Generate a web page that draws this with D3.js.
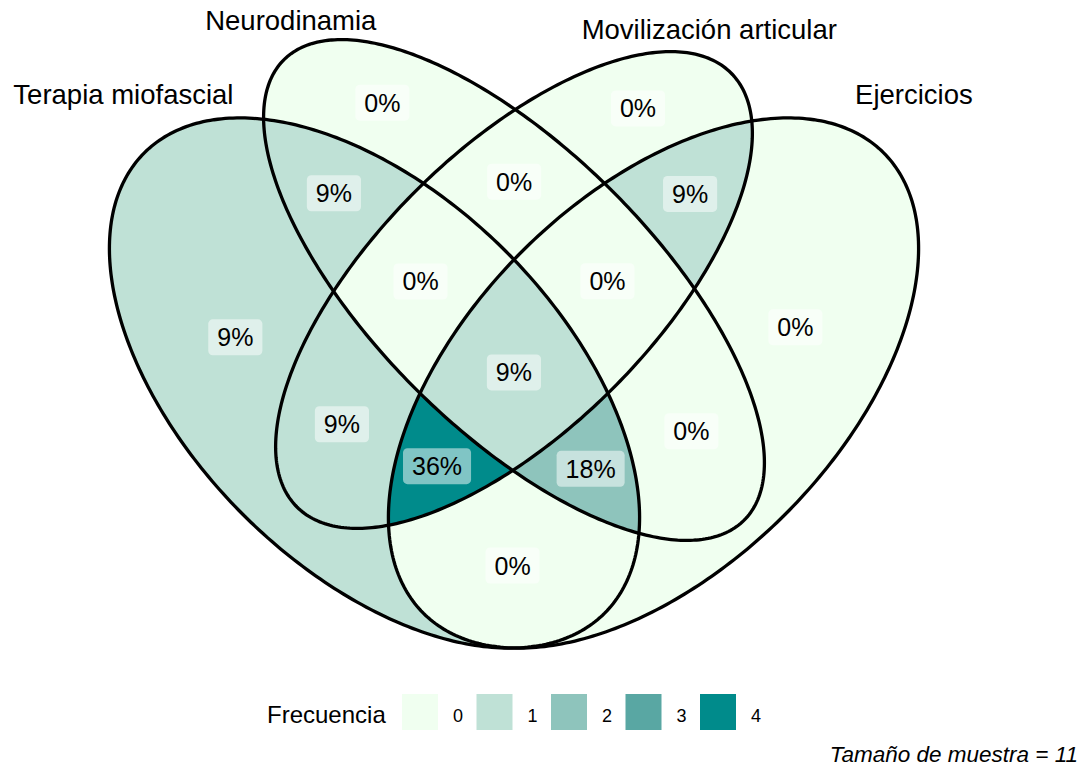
<!DOCTYPE html>
<html><head><meta charset="utf-8">
<script src="https://cdn.jsdelivr.net/npm/d3@7/dist/d3.min.js"></script>
<style>
body{margin:0;background:#fff;}
text{font-family:"Liberation Sans", Arial, Helvetica, sans-serif;fill:#000;}
</style>
</head><body>
<svg id="chart" width="1091" height="769" xmlns="http://www.w3.org/2000/svg"></svg>
<script>
// ---- data ----
const setNames = ["Terapia miofascial", "Neurodinamia", "Movilización articular", "Ejercicios"];
const setKeys = ["A", "B", "C", "D"];
// 4-set ellipse shape (data units)
const shapeCx = [0.35, 0.50, 0.50, 0.65];
const shapeCy = [0.47, 0.57, 0.57, 0.47];
const shapeA  = [0.35, 0.35, 0.33, 0.35];
const shapeB  = [0.20, 0.15, 0.15, 0.20];
const shapeRot = [135, 135, 45, 45];
const setLabelX = [0.08, 0.26, 0.71, 0.93];
const setLabelY = [0.78, 0.86, 0.85, 0.78];
// regions (set membership) and counts
const regionIds    = ["A", "B", "C", "D", "AB", "AC", "AD", "BC", "BD", "CD", "ABC", "ABD", "ACD", "BCD", "ABCD"];
const regionCounts = [ 1,   0,   0,   0,   1,    1,    0,    0,    0,    1,    0,     2,     4,     0,     1];
const legendValues = [0, 1, 2, 3, 4];
const sampleSize = 11;
const legendTitle = "Frecuencia";
const caption = "Tamaño de muestra = " + sampleSize;

// ---- scales ----
const W = 1091, H = 769;
const x = d3.scaleLinear().domain([0, 1]).range([49, 979]);
const y = d3.scaleLinear().domain([0, 1]).range([820.1, -109.9]);
const color = d3.scaleLinear().domain([0, 4]).range(["#F0FFF0", "#008B8B"]).interpolate(d3.interpolateLab);

const svg = d3.select("#chart");
const defs = svg.append("defs");

function ellipsePoints(i) {
  const th = shapeRot[i] * Math.PI / 180;
  const pts = [];
  for (let k = 0; k <= 360; k++) {
    const t = k * Math.PI / 180;
    const ex = shapeA[i] * Math.cos(t), ey = shapeB[i] * Math.sin(t);
    pts.push([shapeCx[i] + ex * Math.cos(th) - ey * Math.sin(th),
              shapeCy[i] + ex * Math.sin(th) + ey * Math.cos(th)]);
  }
  return pts;
}
const line = d3.line().x(d => x(d[0])).y(d => y(d[1]));
const ellipsePaths = setKeys.map((k, i) => line(ellipsePoints(i)) + "Z");

function inSet(i, px, py) {
  const th = shapeRot[i] * Math.PI / 180;
  const dx = px - shapeCx[i], dy = py - shapeCy[i];
  const u = dx * Math.cos(th) + dy * Math.sin(th);
  const v = -dx * Math.sin(th) + dy * Math.cos(th);
  return (u / shapeA[i]) ** 2 + (v / shapeB[i]) ** 2 <= 1;
}

// clip paths for each set
setKeys.forEach((k, i) => {
  defs.append("clipPath").attr("id", "clip-" + k)
    .append("path").attr("d", ellipsePaths[i]);
});

// regions
const gRegions = svg.append("g");
regionIds.forEach((rid, r) => {
  const ins = setKeys.map((k, i) => rid.includes(k) ? i : -1).filter(i => i >= 0);
  const outs = setKeys.map((k, i) => rid.includes(k) ? -1 : i).filter(i => i >= 0);
  const m = defs.append("mask").attr("id", "mask-" + rid)
    .attr("maskUnits", "userSpaceOnUse").attr("x", 0).attr("y", 0).attr("width", W).attr("height", H);
  m.append("rect").attr("width", W).attr("height", H).attr("fill", "#fff");
  outs.forEach(i => m.append("path").attr("d", ellipsePaths[i]).attr("fill", "#000"));
  let g = gRegions;
  ins.slice(1).forEach(i => { g = g.append("g").attr("clip-path", "url(#clip-" + setKeys[i] + ")"); });
  g.append("path").attr("d", ellipsePaths[ins[0]])
    .attr("fill", color(regionCounts[r]))
    .attr("mask", "url(#mask-" + rid + ")");
});

// outlines
svg.append("g").selectAll("path").data(ellipsePaths).join("path")
  .attr("d", d => d).attr("fill", "none").attr("stroke", "#000").attr("stroke-width", 3.3);

// region centroids by sampling
const sums = {};
regionIds.forEach(r => sums[r] = [0, 0, 0]);
const step = 0.002;
for (let px = 0; px <= 1; px += step) {
  for (let py = 0; py <= 1; py += step) {
    let key = "";
    setKeys.forEach((k, i) => { if (inSet(i, px, py)) key += k; });
    if (key && sums[key]) { sums[key][0] += px; sums[key][1] += py; sums[key][2]++; }
  }
}

// percent labels
const gLab = svg.append("g");
regionIds.forEach((rid, r) => {
  const s = sums[rid];
  const cx = x(s[0] / s[2]), cy = y(s[1] / s[2]);
  const g = gLab.append("g").attr("transform", `translate(${cx},${cy})`);
  const rect = g.append("rect");
  const t = g.append("text").attr("text-anchor", "middle").attr("dy", "0.36em")
    .style("font-size", "25px")
    .text(Math.round(regionCounts[r] / sampleSize * 100) + "%");
  const w = t.node().getComputedTextLength() + 18;
  rect.attr("x", -w / 2).attr("y", -18).attr("width", w).attr("height", 36)
    .attr("rx", 4.5).attr("fill", "#fff").attr("fill-opacity", 0.5);
});

// set labels
svg.append("g").selectAll("text").data(setNames).join("text")
  .attr("x", (d, i) => x(setLabelX[i])).attr("y", (d, i) => y(setLabelY[i]))
  .attr("dy", "0.35em").attr("text-anchor", "middle")
  .style("font-size", "27.5px").text(d => d);

// legend
const lg = svg.append("g");
lg.append("text").attr("x", 267).attr("y", 715).attr("dy", "0.35em")
  .style("font-size", "24px").text(legendTitle);
const keyX = d3.scaleLinear().domain([0, 1]).range([402, 476.5]);
legendValues.forEach((v, i) => {
  lg.append("rect").attr("x", keyX(i)).attr("y", 694).attr("width", 36).attr("height", 36)
    .attr("fill", color(v));
  lg.append("text").attr("x", keyX(i) + 51).attr("y", 716).attr("dy", "0.35em")
    .style("font-size", "18px").text(v);
});

// caption
svg.append("text").attr("x", 1078).attr("y", 762).attr("text-anchor", "end")
  .style("font-size", "22.5px").style("font-style", "italic").text(caption);
</script>
</body></html>
